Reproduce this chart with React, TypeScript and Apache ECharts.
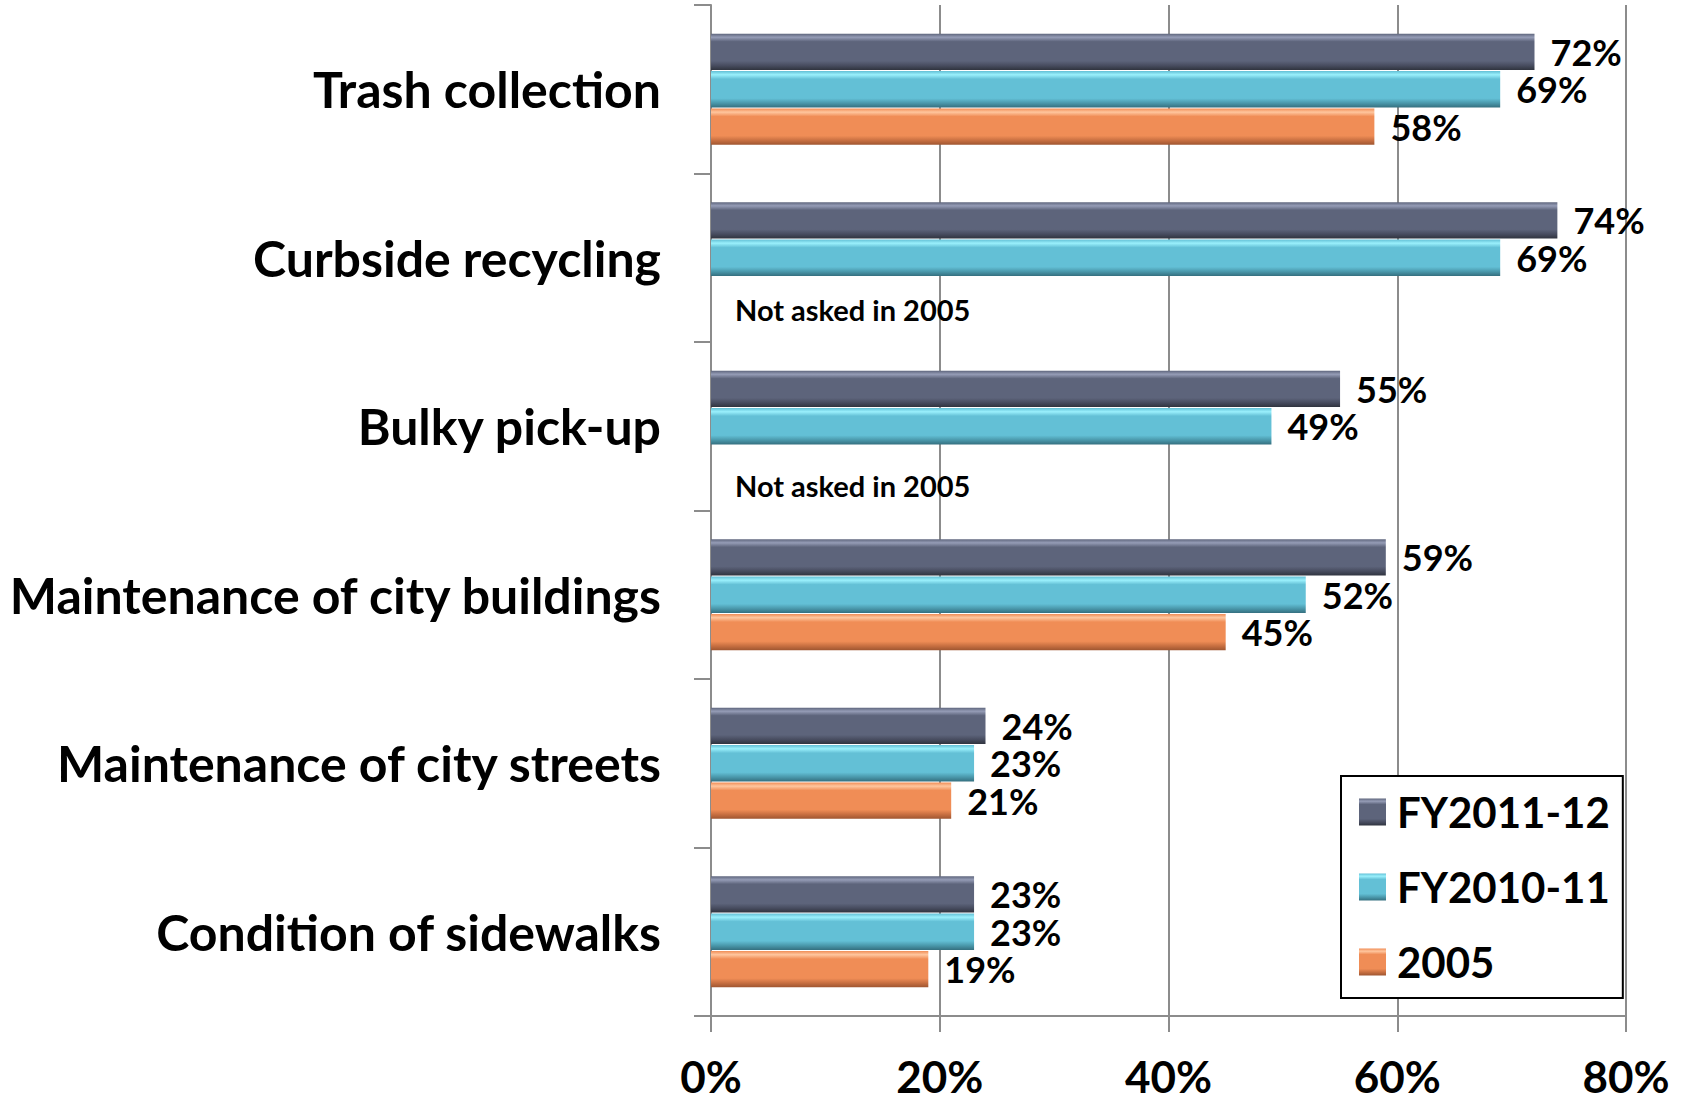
import React, { useEffect, useRef } from "react";
import * as echarts from "echarts";

const categories = [
  "Trash collection",
  "Curbside recycling",
  "Bulky pick-up",
  "Maintenance of city buildings",
  "Maintenance of city streets",
  "Condition of sidewalks",
];
const seriesNames = ["FY2011-12", "FY2010-11", "2005"];
const fy2011_12 = [72, 74, 55, 59, 24, 23];
const fy2010_11 = [69, 69, 49, 52, 23, 23];
const y2005: (number | null)[] = [58, null, null, 45, 21, 19];
const notAskedText = "Not asked in 2005";
const xTicks = [0, 20, 40, 60, 80];

const FONT = "Lato, 'Open Sans', sans-serif";

function bevel(light: string, mid: string, dark: string, darker: string) {
  return new echarts.graphic.LinearGradient(0, 0, 0, 1, [
    { offset: 0, color: mid },
    { offset: 0.1, color: light },
    { offset: 0.22, color: mid },
    { offset: 0.75, color: mid },
    { offset: 0.88, color: dark },
    { offset: 1, color: darker },
  ]);
}

const palettes = [
  ["#959cb6", "#5d647b", "#474c5f", "#30343f"],
  ["#9af0fc", "#63c0d6", "#4a98ab", "#357080"],
  ["#ffc69e", "#f08d56", "#c76f41", "#9e5530"],
];
const noteOffsets = [0, 14, 22, 0, 0, 0];

export default function App() {
  const ref = useRef<HTMLDivElement>(null);
  useEffect(() => {
    if (!ref.current) return;
    const chart = echarts.init(ref.current, undefined, { renderer: "svg" });
    const valueLabel = {
      show: true,
      position: "right",
      distance: 16,
      formatter: "{c}%",
      color: "#000",
      fontSize: 36,
      lineHeight: 32,
      fontWeight: "bold",
      fontFamily: FONT,
    };
    const mk = (i: number, data: any[]) => ({
      name: seriesNames[i],
      type: "bar",
      data,
      barGap: "3%",
      barCategoryGap: "34%",
      itemStyle: {
        color: bevel(palettes[i][0], palettes[i][1], palettes[i][2], palettes[i][3]),
      },
      label: valueLabel,
    });
    const data2005 = y2005.map((v, idx) =>
      v === null
        ? {
            value: 0,
            itemStyle: { color: "rgba(0,0,0,0)" },
            label: {
              show: true,
              position: "right",
              distance: 24,
              formatter: notAskedText,
              fontSize: 29,
              lineHeight: 30,
              fontWeight: "bold",
              fontFamily: FONT,
              color: "#000",
              offset: [0, noteOffsets[idx]],
            },
          }
        : v
    );
    chart.setOption({
      animation: false,
      backgroundColor: "#fff",
      grid: { left: 711, right: 55, top: 5, bottom: 83, containLabel: false },
      xAxis: {
        type: "value",
        min: xTicks[0],
        max: xTicks[xTicks.length - 1],
        interval: xTicks[1] - xTicks[0],
        axisLine: { show: true, lineStyle: { color: "#8c8c8c", width: 2 } },
        axisTick: { show: true, length: 16, lineStyle: { color: "#8c8c8c", width: 2 } },
        splitLine: { show: true, lineStyle: { color: "#8c8c8c", width: 2 } },
        axisLabel: {
          formatter: "{value}%",
          fontSize: 44,
          lineHeight: 40,
          fontWeight: "bold",
          fontFamily: FONT,
          color: "#000",
          margin: 40,
        },
      },
      yAxis: {
        type: "category",
        inverse: true,
        data: categories,
        axisLine: { show: true, lineStyle: { color: "#8c8c8c", width: 2 } },
        axisTick: { show: true, length: 17, lineStyle: { color: "#8c8c8c", width: 2 } },
        axisLabel: {
          fontSize: 50,
          fontWeight: "bold",
          fontFamily: FONT,
          color: "#000",
          margin: 50,
        },
      },
      legend: {
        orient: "vertical",
        left: 1341,
        top: 776,
        data: seriesNames,
        icon: "rect",
        itemWidth: 27,
        itemHeight: 27,
        itemGap: 29,
        padding: [13, 13, 13, 18],
        borderColor: "#000",
        borderWidth: 2,
        backgroundColor: "#fff",
        textStyle: {
          fontSize: 42,
          lineHeight: 46,
          fontWeight: "bold",
          fontFamily: FONT,
          color: "#000",
          padding: [0, 0, 0, 6],
        },
      },
      series: [mk(0, fy2011_12), mk(1, fy2010_11), mk(2, data2005)],
    });
    return () => chart.dispose();
  }, []);
  return (
    <div
      ref={ref}
      style={{ position: "fixed", left: 0, top: 0, width: 1681, height: 1099 }}
    />
  );
}
